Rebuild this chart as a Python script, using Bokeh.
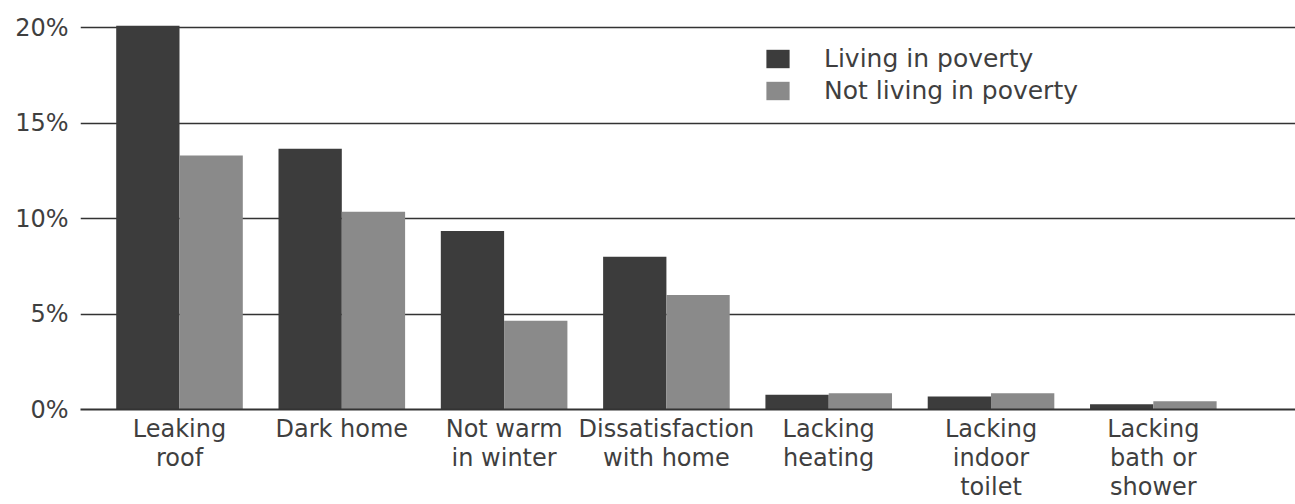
import numpy as np
from bokeh.plotting import figure
from bokeh.models import Range1d, FixedTicker, PrintfTickFormatter, ColumnDataSource, Legend, LegendItem
from bokeh.embed import file_html
from bokeh.resources import INLINE

categories = ["Leaking\nroof", "Dark home", "Not warm\nin winter", "Dissatisfaction\nwith home",
              "Lacking\nheating", "Lacking\nindoor\ntoilet", "Lacking\nbath or\nshower"]
living = [20.1, 13.65, 9.35, 8.0, 0.77, 0.68, 0.28]
not_living = [13.3, 10.35, 4.65, 6.0, 0.85, 0.85, 0.43]
y_ticks = [0, 5, 10, 15, 20]

FONT = "DejaVu Sans"
TXT = "#3f3f3f"
idx = np.arange(len(categories))
src = ColumnDataSource(dict(x1=idx - 0.195, x2=idx + 0.195, living=living, not_living=not_living))

p = figure(width=1295, height=504, output_backend="svg", toolbar_location=None,
           x_range=Range1d(-0.61, 6.876), y_range=Range1d(0, 21),
           min_border_left=80, min_border_right=0, min_border_top=8, min_border_bottom=95)
p.outline_line_color = None

r1 = p.vbar(x="x1", top="living", width=0.39, source=src, fill_color="#3c3c3c", line_color=None)
r2 = p.vbar(x="x2", top="not_living", width=0.39, source=src, fill_color="#8a8a8a", line_color=None)

for ax in (p.xaxis, p.yaxis):
    ax.major_tick_line_color = None
    ax.minor_tick_line_color = None
    ax.major_tick_out = 0
    ax.major_tick_in = 0
    ax.minor_tick_out = 0
    ax.minor_tick_in = 0
    ax.major_label_text_font = FONT
    ax.major_label_text_color = TXT

p.xaxis.ticker = FixedTicker(ticks=list(idx))
p.xaxis.major_label_overrides = {int(i): c for i, c in zip(idx, categories)}
p.xaxis.axis_line_color = "#333333"
p.xaxis.axis_line_width = 2
p.xaxis.major_label_text_font_size = "24px"
p.xaxis.major_label_text_line_height = 1.05
p.xaxis.major_label_standoff = 5

p.yaxis.ticker = FixedTicker(ticks=y_ticks)
p.yaxis.formatter = PrintfTickFormatter(format="%d%%")
p.yaxis.axis_line_color = None
p.yaxis.major_label_text_font_size = "24px"
p.yaxis.major_label_standoff = 12

p.xgrid.grid_line_color = None
p.ygrid.ticker = FixedTicker(ticks=y_ticks)
p.ygrid.grid_line_color = "#333333"
p.ygrid.grid_line_width = 1.5

legend = Legend(items=[LegendItem(label="Living in poverty", renderers=[r1]),
                       LegendItem(label="Not living in poverty", renderers=[r2])],
                location=(683, 304), orientation="vertical")
legend.glyph_width = 29
legend.glyph_height = 23
legend.label_standoff = 32
legend.spacing = 3
legend.padding = 0
legend.margin = 0
legend.border_line_color = None
legend.background_fill_alpha = 0
legend.label_text_font = FONT
legend.label_text_font_size = "25px"
legend.label_text_color = TXT
p.add_layout(legend, "center")

open("out.html", "w").write(file_html(p, INLINE))
